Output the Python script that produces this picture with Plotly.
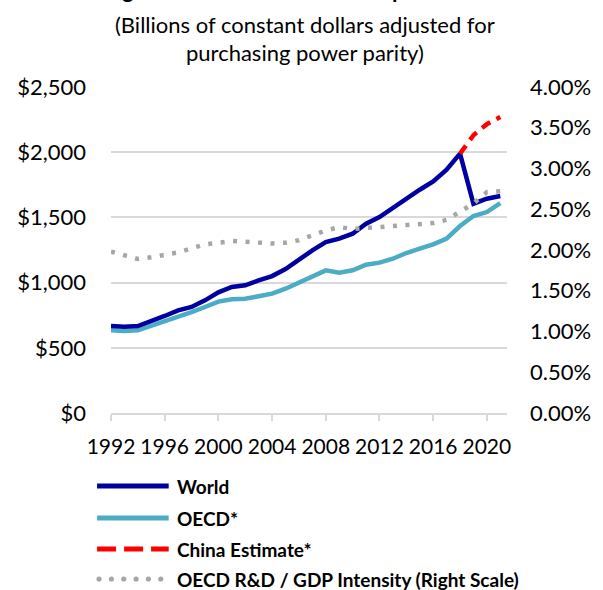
import plotly.graph_objects as go

# ---- data ---------------------------------------------------------------
years = list(range(1992, 2022))

world = [667, 662, 667, 703, 744, 787, 813, 864, 925, 966,
         979, 1017, 1050, 1104, 1178, 1247, 1311, 1337, 1375, 1452,
         1503, 1574, 1643, 1712, 1776, 1866, 1989, 1605, 1643, 1664]

oecd = [634, 629, 634, 667, 703, 741, 774, 813, 854, 872,
        877, 895, 915, 953, 999, 1048, 1094, 1076, 1094, 1137,
        1153, 1183, 1227, 1260, 1293, 1337, 1434, 1511, 1541, 1610]

china_years = [2018, 2019, 2020, 2021]
china_est = [1989, 2130, 2215, 2270]

intensity = [1.98, 1.93, 1.89, 1.91, 1.94, 1.97, 2.02, 2.07, 2.09, 2.11,
             2.10, 2.09, 2.08, 2.09, 2.12, 2.18, 2.24, 2.28, 2.26, 2.27,
             2.28, 2.29, 2.31, 2.32, 2.33, 2.37, 2.47, 2.57, 2.71, 2.72]

x_ticks = list(range(1992, 2021, 4))
y_ticks = [0, 500, 1000, 1500, 2000, 2500]
y2_ticks = [0, 0.5, 1, 1.5, 2, 2.5, 3, 3.5, 4]

legend_names = ["World", "OECD*", "China Estimate*",
                "OECD R&D / GDP Intensity (Right Scale)"]

# ---- style --------------------------------------------------------------
C_WORLD = "#0000A0"
C_OECD = "#4BACC6"
C_CHINA = "#FF0000"
C_INT = "#A6A6A6"
C_GRID = "#D9D9D9"
FONT = "Lato, Carlito, Calibri, sans-serif"

W, H = 603, 590
L, R, T, B = 111, 94, 87, 177
PW, PH = W - L - R, H - T - B


def px(x):
    return (x - L) / PW


def py(y):
    return (T + PH - y) / PH


fig = go.Figure()
fig.add_trace(go.Scatter(x=years, y=oecd, mode="lines", name=legend_names[1],
                         line=dict(color=C_OECD, width=4.5), showlegend=False))
fig.add_trace(go.Scatter(x=years, y=world, mode="lines", name=legend_names[0],
                         line=dict(color=C_WORLD, width=4.5), showlegend=False))
fig.add_trace(go.Scatter(x=china_years, y=china_est, mode="lines", name=legend_names[2],
                         line=dict(color=C_CHINA, width=4.5, dash="10px,7px"),
                         showlegend=False))
fig.add_trace(go.Scatter(x=years, y=intensity, mode="lines", name=legend_names[3],
                         yaxis="y2",
                         line=dict(color=C_INT, width=4.5, dash="4px,8.5px"),
                         showlegend=False))

# ---- hand-drawn legend below the plot -------------------------------------
rows = [486, 518, 549, 579]
shapes = []
annotations = []
sx0, sx1, tx = 97, 169, 175
shapes.append(dict(type="line", xref="paper", yref="paper",
                   x0=px(sx0), x1=px(sx1), y0=py(rows[0]), y1=py(rows[0]),
                   line=dict(color=C_WORLD, width=5)))
shapes.append(dict(type="line", xref="paper", yref="paper",
                   x0=px(sx0), x1=px(sx1), y0=py(rows[1]), y1=py(rows[1]),
                   line=dict(color=C_OECD, width=5)))
shapes.append(dict(type="line", xref="paper", yref="paper",
                   x0=px(sx0), x1=px(sx0 + 72), y0=py(rows[2]), y1=py(rows[2]),
                   line=dict(color=C_CHINA, width=5, dash="19px,8px")))
for i in range(6):
    cx = 99 + i * 12.4
    shapes.append(dict(type="circle", xref="paper", yref="paper",
                       x0=px(cx - 2.6), x1=px(cx + 2.6),
                       y0=py(rows[3] + 2.6), y1=py(rows[3] - 2.6),
                       fillcolor=C_INT, line=dict(width=0)))
for name, ry in zip(legend_names, rows):
    annotations.append(dict(text=f"<b>{name}</b>", xref="paper", yref="paper",
                            x=px(tx), y=py(ry), xanchor="left", yanchor="middle",
                            showarrow=False,
                            font=dict(family=FONT, size=19, color="#000000")))

# ---- titles ---------------------------------------------------------------
annotations.append(dict(text="<b>Figure 1: Total Global R&D Expenditures</b>",
                        xref="paper", yref="paper", x=px(W / 2), y=py(5),
                        xanchor="center", yanchor="bottom", showarrow=False,
                        font=dict(family=FONT, size=22, color="#000000")))
for line_text, ly in [("(Billions of constant dollars adjusted for", 24),
                      ("purchasing power parity)", 53)]:
    annotations.append(dict(text=line_text, xref="paper", yref="paper",
                            x=px(306), y=py(ly), xanchor="center", yanchor="middle",
                            showarrow=False,
                            font=dict(family=FONT, size=22, color="#000000")))

fig.update_layout(
    width=W, height=H,
    margin=dict(l=L, r=R, t=T, b=B, pad=0),
    paper_bgcolor="white", plot_bgcolor="white",
    font=dict(family=FONT, size=21, color="#000000"),
    showlegend=False,
    shapes=shapes,
    annotations=annotations,
    xaxis=dict(range=[1992, 2021.5], tickvals=x_ticks,
               ticktext=[str(v) for v in x_ticks],
               showgrid=False, zeroline=False,
               showline=True, linecolor=C_GRID, linewidth=2,
               ticks="outside", ticklen=6, tickwidth=2, tickcolor=C_GRID,
               ticklabelstandoff=8,
               tickfont=dict(family=FONT, size=21)),
    yaxis=dict(range=[0, 2500], tickvals=y_ticks,
               ticktext=[f"${v:,}" for v in y_ticks],
               showgrid=True, gridcolor=C_GRID, gridwidth=1.5,
               zeroline=False, showline=False, ticks="",
               ticklabelstandoff=24,
               tickfont=dict(family=FONT, size=22)),
    yaxis2=dict(range=[0, 4], tickvals=y2_ticks,
                ticktext=[f"{v:.2f}%" for v in y2_ticks],
                overlaying="y", side="right",
                showgrid=False, zeroline=False, showline=False, ticks="",
                ticklabelstandoff=22,
                tickfont=dict(family=FONT, size=22)),
)

fig.write_html("out.html")
